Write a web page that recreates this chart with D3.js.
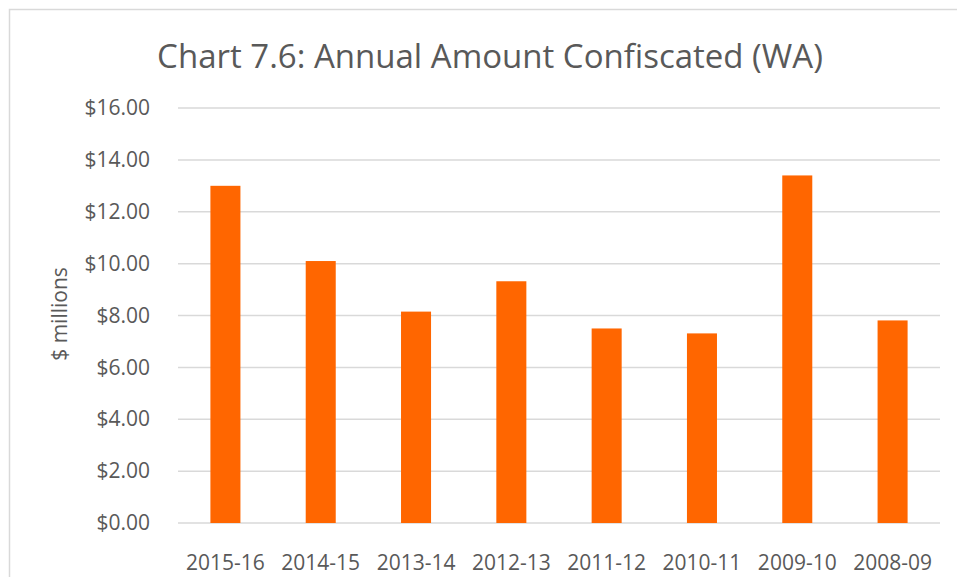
<!DOCTYPE html>
<html>
<head>
<meta charset="utf-8">
<script src="https://cdn.jsdelivr.net/npm/d3@7"></script>
<style>
body{margin:0;background:#fff}
text{font-family:"Open Sans",sans-serif;fill:#595959}
</style>
</head>
<body>
<svg id="chart" width="957" height="577"></svg>
<script>
var years = ["2015-16","2014-15","2013-14","2012-13","2011-12","2010-11","2009-10","2008-09"]
var amounts = [13.0, 10.1, 8.15, 9.32, 7.5, 7.31, 13.4, 7.81]
var ticks = [0,2,4,6,8,10,12,14,16]

var svg = d3.select("#chart")
var plotLeft = 178, plotRight = 940, plotTop = 108, plotBottom = 523

// outer frame
svg.append("rect")
	.attr("x",9.5).attr("y",9.5)
	.attr("width",1000).attr("height",1000)
	.attr("fill","none").attr("stroke","#d9d9d9").attr("stroke-width",1.5)

var x = d3.scaleBand().domain(years).range([plotLeft,plotRight]).paddingInner(0.685).paddingOuter(0.34)
var y = d3.scaleLinear().domain([0,16]).range([plotBottom,plotTop])

svg.append("text")
	.attr("x",490).attr("y",68)
	.attr("text-anchor","middle")
	.style("font-size","33px")
	.text("Chart 7.6: Annual Amount Confiscated (WA)")

// gridlines
svg.append("g").selectAll("line").data(ticks).enter().append("line")
	.attr("x1",plotLeft).attr("x2",plotRight)
	.attr("y1",function(d){return y(d)}).attr("y2",function(d){return y(d)})
	.attr("stroke","#d9d9d9").attr("stroke-width",1.5)

var yAxis = svg.append("g")
	.attr("transform","translate(" + (plotLeft-28) + ",0)")
	.call(d3.axisLeft(y).tickValues(ticks).tickSize(0).tickPadding(0).tickFormat(function(d){return "$" + d.toFixed(2)}))
yAxis.select(".domain").remove()
yAxis.selectAll("text").style("font-size","21px").style("fill","#595959").attr("font-family",null)

svg.append("g").selectAll("rect").data(amounts).enter().append("rect")
	.attr("x",function(d,i){return x(years[i])})
	.attr("width",x.bandwidth())
	.attr("y",function(d){return y(d)})
	.attr("height",function(d){return plotBottom - y(d)})
	.attr("fill","#ff6600")

var xAxis = svg.append("g")
	.attr("transform","translate(0," + plotBottom + ")")
	.call(d3.axisBottom(x).tickSize(0).tickPadding(32))
xAxis.select(".domain").remove()
xAxis.selectAll("text").style("font-size","21px").style("fill","#595959").attr("font-family",null)

svg.append("text")
	.attr("transform","translate(67,314) rotate(-90)")
	.attr("text-anchor","middle")
	.style("font-size","21px")
	.text("$ millions")
</script>
</body>
</html>
